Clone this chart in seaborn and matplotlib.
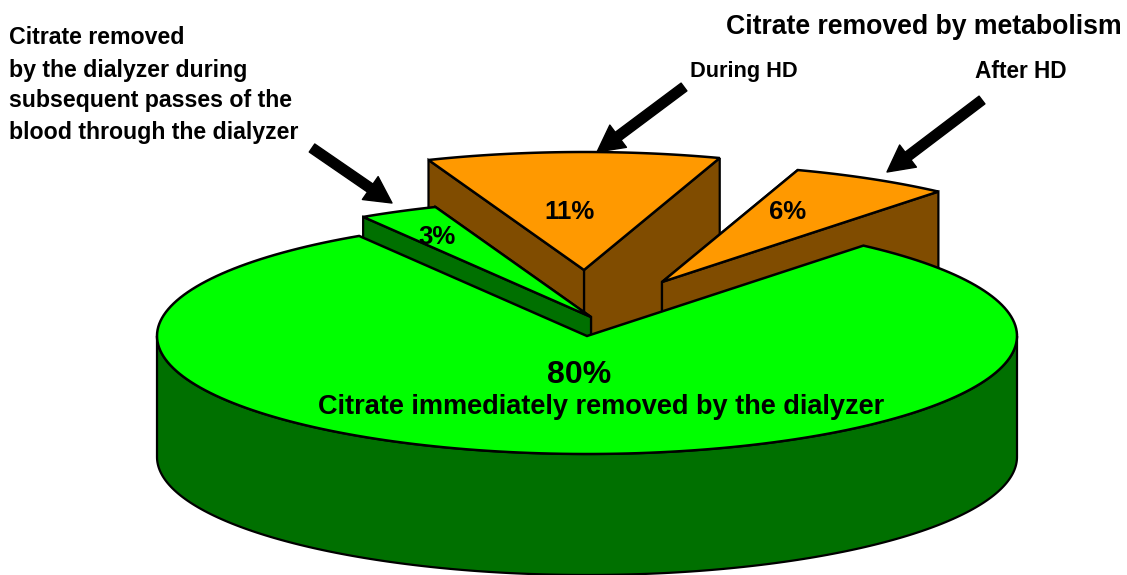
import numpy as np
import seaborn as sns
import matplotlib.pyplot as plt
from matplotlib.patches import Polygon

# slices, going round from the big one
names = ['Immediately', 'After HD', 'During HD', 'Subsequent passes']
shares = [80, 6, 11, 3]
pct_labels = ['80%', '6%', '11%', '3%']

sns.set_theme(style='white')
plt.rcParams['font.family'] = ['Liberation Sans', 'DejaVu Sans']

top_cols = sns.color_palette(['#00FF00', '#FF9900', '#FF9900', '#00FF00'])
side_cols = sns.color_palette(['#007000', '#804C00', '#804C00', '#007000'])

# pie geometry in pixels
cx, cy = 587, 336
rx, ry = 430, 118
depth = 121
start = 122.0
# how far each slice is pulled out of the pie
offsets = {'Immediately': (0, 0), 'After HD': (75, -54), 'During HD': (-3, -66), 'Subsequent passes': (4, -19)}
draw_order = ['During HD', 'Subsequent passes', 'After HD', 'Immediately']

fig = plt.figure(figsize=(11.27, 5.75), dpi=100)
ax = fig.add_axes([0, 0, 1, 1])
ax.set_xlim(0, 1127)
ax.set_ylim(575, 0)
ax.axis('off')

edges = start + np.cumsum([0] + [s * 3.6 for s in shares])


def rim(x0, y0, a0, a1):
    t = np.radians(np.linspace(a0, a1, 200))
    return np.column_stack([x0 + rx * np.cos(t), y0 - ry * np.sin(t)])


for name in draw_order:
    i = names.index(name)
    a0, a1 = edges[i], edges[i + 1]
    x0 = cx + offsets[name][0]
    y0 = cy + offsets[name][1]
    if name == 'Immediately':
        # outer wall, only the front half shows
        arc = rim(x0, y0, 180, 360)
        wall = np.vstack([arc, (arc + [0, depth])[::-1]])
        ax.add_patch(Polygon(wall, fc=side_cols[i], ec='black', lw=1.6, zorder=2))
    else:
        # cut faces, nearest to the back first
        for a in sorted([a0, a1], key=lambda v: abs((v % 360) - 90)):
            p = rim(x0, y0, a, a)[0]
            face = [(x0, y0), p, p + [0, depth], (x0, y0 + depth)]
            ax.add_patch(Polygon(face, fc=side_cols[i], ec='black', lw=1.6, zorder=2))
    top = np.vstack([[x0, y0], rim(x0, y0, a0, a1)])
    ax.add_patch(Polygon(top, fc=top_cols[i], ec='black', lw=1.8, zorder=2))

# percentages
ax.text(579, 375, pct_labels[0], fontsize=23, fontweight='bold', color='black', ha='center', va='center', zorder=5)
ax.text(788, 212, pct_labels[1], fontsize=18.5, fontweight='bold', color='black', ha='center', va='center', zorder=5)
ax.text(570, 212, pct_labels[2], fontsize=18.5, fontweight='bold', color='black', ha='center', va='center', zorder=5)
ax.text(437, 237, pct_labels[3], fontsize=18.5, fontweight='bold', color='black', ha='center', va='center', zorder=5)

# labels
ax.text(601, 407, 'Citrate immediately removed by the dialyzer', fontsize=19.5, fontweight='bold', color='black', ha='center', va='center', zorder=5)
ax.text(1122, 27, 'Citrate removed by metabolism', fontsize=19.2, fontweight='bold', color='black', ha='right', va='center')
ax.text(744, 72, 'During HD', fontsize=15.7, fontweight='bold', color='black', ha='center', va='center')
ax.text(1021, 72, 'After HD', fontsize=16.3, fontweight='bold', color='black', ha='center', va='center')
left_lines = ['Citrate removed', 'by the dialyzer during', 'subsequent passes of the', 'blood through the dialyzer']
for line, y in zip(left_lines, [38, 70, 101, 132]):
    ax.text(9, y, line, fontsize=16.7, fontweight='bold', color='black', ha='left', va='center')

# arrows
arrow = dict(facecolor='black', edgecolor='black', width=7, headwidth=20, headlength=19, shrink=0)
ax.annotate('', xy=(392, 203), xytext=(312, 148), arrowprops=arrow, zorder=6)
ax.annotate('', xy=(597, 152), xytext=(684, 87), arrowprops=arrow, zorder=6)
ax.annotate('', xy=(887, 172), xytext=(982, 100), arrowprops=arrow, zorder=6)

fig.savefig('out.png', dpi=100)
